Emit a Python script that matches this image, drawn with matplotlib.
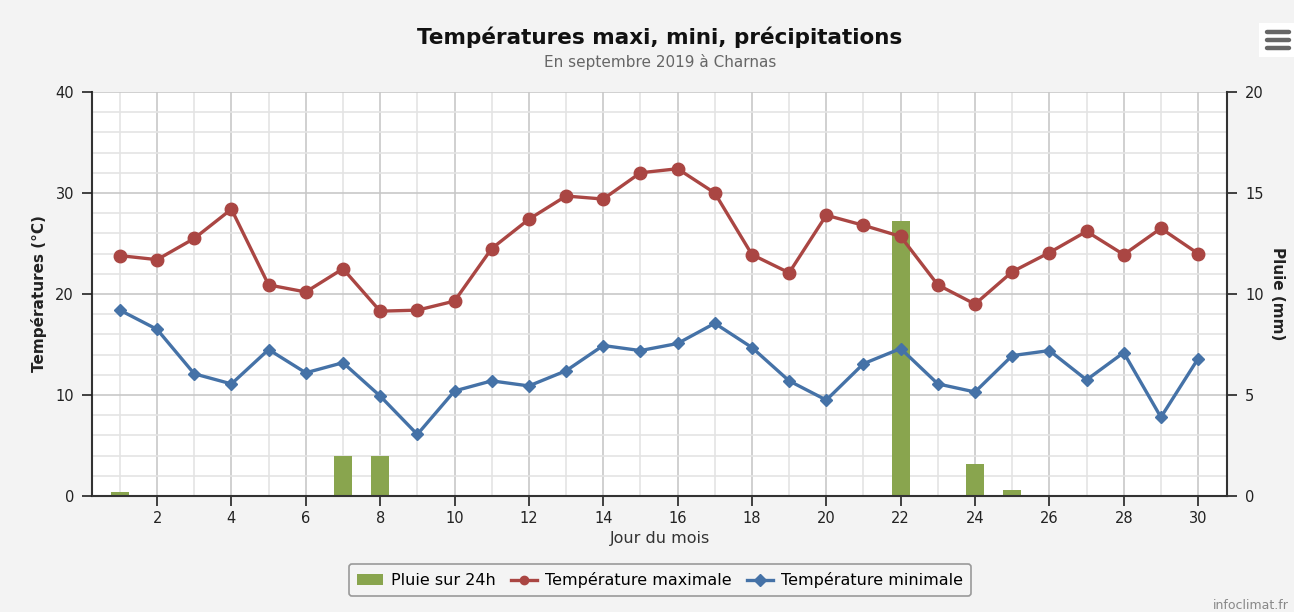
import matplotlib
matplotlib.use('Agg')
import matplotlib.pyplot as plt
from matplotlib.lines import Line2D
from matplotlib.patches import Rectangle
from matplotlib.ticker import MultipleLocator

days = list(range(1, 31))
t_max = [23.8, 23.4, 25.5, 28.4, 20.9, 20.2, 22.5, 18.3, 18.4, 19.3,
         24.5, 27.4, 29.7, 29.4, 32.0, 32.4, 30.0, 23.9, 22.1, 27.8,
         26.8, 25.7, 20.9, 19.0, 22.2, 24.1, 26.2, 23.9, 26.5, 24.0]
t_min = [18.4, 16.5, 12.1, 11.1, 14.5, 12.2, 13.2, 9.9, 6.1, 10.4,
         11.4, 10.9, 12.4, 14.9, 14.4, 15.1, 17.1, 14.7, 11.4, 9.5,
         13.1, 14.6, 11.1, 10.3, 13.9, 14.4, 11.5, 14.2, 7.8, 13.6]
rain = [0.2, 0, 0, 0, 0, 0, 2.0, 2.0, 0, 0,
        0, 0, 0, 0, 0, 0, 0, 0, 0, 0,
        0, 13.6, 0, 1.6, 0.3, 0, 0, 0, 0, 0]

red = '#AA4643'
blue = '#4572A7'
green = '#89A54E'

plt.rcParams['font.family'] = 'DejaVu Sans'

fig = plt.figure(figsize=(12.94, 6.12), dpi=100, facecolor='#f3f3f3')
# rain axis underneath (ticks on the right), temperature axis on top
ax = fig.add_axes([0.0711, 0.1895, 0.8772, 0.6602])
ax.set_facecolor('white')
bars = ax.bar(days, rain, width=0.48, color=green, zorder=2, label='Pluie sur 24h')
ax.set_ylim(0, 20)
ax.set_xlim(0.25, 30.78)
ax.yaxis.set_major_locator(MultipleLocator(5))
ax.yaxis.set_minor_locator(MultipleLocator(1))
ax.xaxis.set_minor_locator(MultipleLocator(1))
ax.set_xticks(range(2, 31, 2))
ax.grid(which='major', color='#c8c8c8', lw=1.2, zorder=0)
ax.grid(which='minor', color='#e4e4e4', lw=1.2, zorder=0)
ax.set_axisbelow(True)
ax.set_xlabel('Jour du mois', fontsize=11.5, color='#333333', labelpad=4)
ax.spines['top'].set_visible(False)
for s in ['left', 'right', 'bottom']:
    ax.spines[s].set_color('#333333')
    ax.spines[s].set_linewidth(1.5)

ax2 = ax.twinx()
# twinx resets tick sides, so set them afterwards
ax.yaxis.tick_right()
ax.yaxis.set_label_position('right')
ax2.yaxis.tick_left()
ax2.yaxis.set_label_position('left')
ax.tick_params(axis='y', which='major', length=7, width=1.2, labelsize=10.5, colors='#222222', pad=6)
ax.tick_params(axis='x', which='major', length=7, width=1.2, labelsize=10.5, colors='#222222')
ax.tick_params(which='minor', length=0)
ax.set_ylabel('Pluie (mm)', rotation=-90, labelpad=15, fontsize=11, fontweight='bold', color='#222222')

ax2.plot(days, t_max, color=red, lw=2.4, marker='o', ms=9, label='Température maximale', zorder=4)
ax2.plot(days, t_min, color=blue, lw=2.4, marker='D', ms=6.5, label='Température minimale', zorder=3)
ax2.set_ylim(0, 40)
ax2.set_yticks([0, 10, 20, 30, 40])
ax2.tick_params(axis='y', length=7, width=1.2, labelsize=10.5, colors='#222222', pad=6)
ax2.set_ylabel('Températures (°C)', fontsize=11, fontweight='bold', color='#222222', labelpad=6)
for s in ax2.spines.values():
    s.set_visible(False)

fig.text(0.51, 0.9395, 'Températures maxi, mini, précipitations', ha='center', va='center',
         fontsize=15.5, fontweight='bold', color='#111111')
fig.text(0.51, 0.898, 'En septembre 2019 à Charnas', ha='center', va='center',
         fontsize=11, color='#666666')

handles = [bars, ax2.lines[0], ax2.lines[1]]
leg = fig.legend(handles, [h.get_label() for h in handles], loc='center', ncol=3,
                 bbox_to_anchor=(0.51, 0.052), fontsize=11.5, frameon=True, fancybox=True,
                 edgecolor='#999999', facecolor='#f4f4f4', handlelength=1.6, handletextpad=0.5,
                 columnspacing=1.0, borderpad=0.5)
leg.get_frame().set_linewidth(1.2)
leg.get_frame().set_alpha(1)
for h in leg.legend_handles[1:]:
    h.set_markersize(6)

# export menu icon
fig.add_artist(Rectangle((0.973, 0.907), 0.027, 0.055, transform=fig.transFigure,
                         facecolor='white', edgecolor='none'))
for yy in [0.948, 0.935, 0.922]:
    fig.add_artist(Line2D([0.979, 0.996], [yy, yy], transform=fig.transFigure,
                          color='#666666', lw=3.2, solid_capstyle='round'))

fig.text(0.937, 0.0, 'infoclimat.fr', ha='left', va='bottom', fontsize=9, color='#888888')

fig.savefig('out.png', dpi=100, facecolor=fig.get_facecolor())
